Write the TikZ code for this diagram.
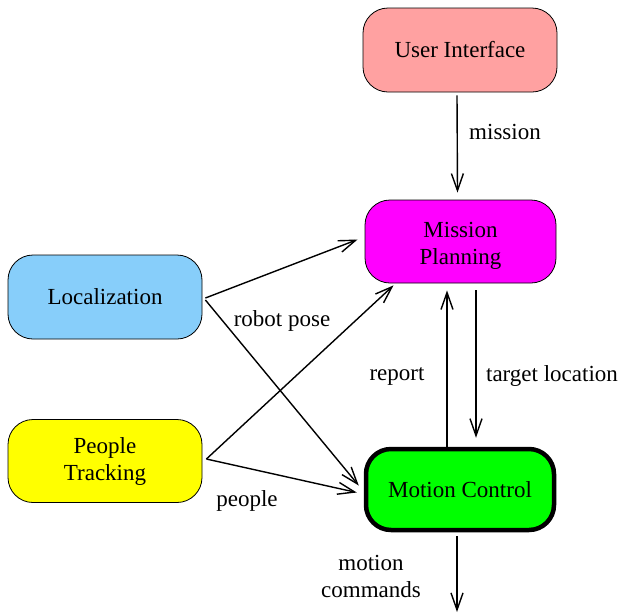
\documentclass[tikz,border=0pt]{standalone}
\usepackage{fontspec}
\setmainfont{Liberation Serif}
\usetikzlibrary{arrows.meta,calc}
\definecolor{uipink}{RGB}{255,161,161}
\definecolor{locblue}{RGB}{135,206,250}
\definecolor{mpmag}{RGB}{255,0,255}
\definecolor{mcgreen}{RGB}{0,255,0}
\definecolor{ptyellow}{RGB}{255,255,0}
\tikzset{
  box/.style={draw=black, line width=0.8pt, rounded corners=25pt, minimum width=#1, align=center, inner sep=0pt},
  arr/.style={line width=1.4pt, -{Straight Barb[length=17pt,width=12pt,line width=1.4pt]}},
  lbl/.style={inner sep=0pt, align=center},
}
\begin{document}
\begin{tikzpicture}[x=1pt,y=-1pt, font=\rmfamily\fontsize{23}{27}\selectfont]
\useasboundingbox (0,0) rectangle (621,614);
\node[box=194pt, minimum height=84pt, fill=uipink] (ui) at (460,50) {User Interface};
\node[box=191pt, minimum height=83pt, fill=mpmag] (mp) at (460.5,241.5) {};
\node[lbl] (mptext) at (460.5,246) {Mission\\Planning};
\node[box=194pt, minimum height=84pt, fill=locblue] (loc) at (105,297) {Localization};
\node[box=194pt, minimum height=83pt, fill=ptyellow] (pt) at (105,461) {People\\Tracking};
\node[box=188pt, minimum height=81pt, fill=mcgreen, line width=4.5pt] (mc) at (460,489.5) {Motion Control};
\coordinate (out) at (457,612);

\draw[arr] ($(ui.south)+(-3,3)$) -- ($(mp.north)+(-3,-7)$);
\draw[arr] ($(loc.east)+(3,1)$) -- ($(mp.west)+(-7,-2)$);
\draw[arr] ($(loc.east)+(3,3)$) -- ($(mc.west)+(-5,-4)$);
\draw[arr] ($(pt.east)+(4,-2)$) -- ($(mp.south)+(-67,2)$);
\draw[arr] ($(pt.east)+(4,-2)$) -- ($(mc.west)+(-7,3)$);
\draw[arr] ($(mc.north)+(-13,0)$) -- ($(mp.south)+(-13.5,7)$);
\draw[arr] ($(mp.south)+(15.5,7)$) -- ($(mc.north)+(16,-9)$);
\draw[arr] ($(mc.south)+(-3,4)$) -- (out);

\node[lbl] (l1) at (505,132) {mission};
\node[lbl] (l2) at (282,321) {robot pose};
\node[lbl] (l3) at (397,376) {report};
\node[lbl] (l4) at (552,376) {target location};
\node[lbl] (l5) at (247,501) {people};
\node[lbl] (l6) at (371,576) {motion\\commands};
\end{tikzpicture}
\end{document}
